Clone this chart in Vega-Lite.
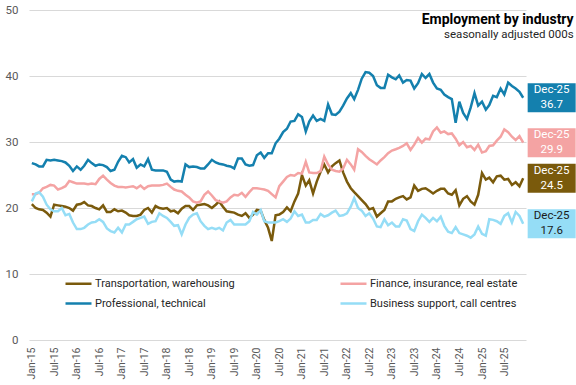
{
  "$schema": "https://vega.github.io/schema/vega-lite/v6.json",
  "width": 497,
  "height": 330,
  "autosize": {"type": "none"},
  "padding": {"left": 29, "top": 10, "right": 50, "bottom": 45},
  "background": "white",
  "config": {"view": {"stroke": null}, "font": "Roboto"},
  "title": {
    "text": "Employment by industry",
    "subtitle": "seasonally adjusted 000s",
    "anchor": "end",
    "orient": "top",
    "offset": -36,
    "dx": -2,
    "font": "Roboto",
    "fontSize": 14,
    "fontWeight": "bold",
    "color": "#000000",
    "subtitleFont": "Roboto",
    "subtitleFontSize": 11.5,
    "subtitleColor": "#262626",
    "subtitlePadding": 2
  },
  "data": {
    "format": {"parse": {"d": "date"}},
    "values": [
      {"d":"2015/01/01","t":20.6,"f":22.1,"p":26.8,"b":21.0},
      {"d":"2015/02/01","t":20.0,"f":22.1,"p":26.6,"b":22.2},
      {"d":"2015/03/01","t":19.8,"f":22.3,"p":26.3,"b":22.4},
      {"d":"2015/04/01","t":19.7,"f":23.0,"p":26.3,"b":21.7},
      {"d":"2015/05/01","t":19.3,"f":23.2,"p":27.3,"b":20.5},
      {"d":"2015/06/01","t":18.7,"f":23.5,"p":27.2,"b":19.8},
      {"d":"2015/07/01","t":20.5,"f":23.4,"p":27.3,"b":19.5},
      {"d":"2015/08/01","t":20.4,"f":22.8,"p":27.2,"b":19.5},
      {"d":"2015/09/01","t":20.3,"f":23.0,"p":27.1,"b":20.0},
      {"d":"2015/10/01","t":20.2,"f":23.3,"p":26.9,"b":18.9},
      {"d":"2015/11/01","t":20.0,"f":24.1,"p":26.4,"b":19.1},
      {"d":"2015/12/01","t":19.6,"f":23.9,"p":25.6,"b":17.8},
      {"d":"2016/01/01","t":20.5,"f":23.7,"p":26.3,"b":16.8},
      {"d":"2016/02/01","t":20.6,"f":23.7,"p":25.8,"b":16.8},
      {"d":"2016/03/01","t":20.9,"f":23.7,"p":26.4,"b":17.0},
      {"d":"2016/04/01","t":20.4,"f":23.6,"p":27.3,"b":17.5},
      {"d":"2016/05/01","t":20.3,"f":23.7,"p":26.8,"b":17.8},
      {"d":"2016/06/01","t":20.0,"f":23.6,"p":26.4,"b":17.9},
      {"d":"2016/07/01","t":19.8,"f":24.4,"p":26.6,"b":18.3},
      {"d":"2016/08/01","t":20.4,"f":24.9,"p":26.5,"b":17.9},
      {"d":"2016/09/01","t":19.4,"f":24.3,"p":26.2,"b":16.9},
      {"d":"2016/10/01","t":19.4,"f":23.8,"p":25.6,"b":16.5},
      {"d":"2016/11/01","t":19.8,"f":23.4,"p":25.8,"b":16.3},
      {"d":"2016/12/01","t":19.5,"f":23.2,"p":27.0,"b":17.0},
      {"d":"2017/01/01","t":19.6,"f":23.2,"p":27.9,"b":16.3},
      {"d":"2017/02/01","t":19.3,"f":23.1,"p":27.7,"b":17.5},
      {"d":"2017/03/01","t":18.9,"f":23.2,"p":26.9,"b":17.5},
      {"d":"2017/04/01","t":18.8,"f":23.3,"p":27.4,"b":17.9},
      {"d":"2017/05/01","t":18.8,"f":23.0,"p":26.1,"b":18.3},
      {"d":"2017/06/01","t":19.0,"f":23.4,"p":26.6,"b":18.5},
      {"d":"2017/07/01","t":19.7,"f":22.9,"p":26.3,"b":18.7},
      {"d":"2017/08/01","t":20.0,"f":23.3,"p":27.4,"b":17.6},
      {"d":"2017/09/01","t":19.3,"f":23.4,"p":25.8,"b":17.9},
      {"d":"2017/10/01","t":20.3,"f":23.4,"p":25.7,"b":18.0},
      {"d":"2017/11/01","t":20.0,"f":23.4,"p":25.7,"b":19.2},
      {"d":"2017/12/01","t":19.9,"f":23.5,"p":25.7,"b":18.8},
      {"d":"2018/01/01","t":20.0,"f":23.7,"p":25.5,"b":18.5},
      {"d":"2018/02/01","t":19.5,"f":23.2,"p":24.3,"b":17.9},
      {"d":"2018/03/01","t":19.6,"f":22.8,"p":24.0,"b":17.3},
      {"d":"2018/04/01","t":19.2,"f":22.6,"p":24.1,"b":17.4},
      {"d":"2018/05/01","t":19.9,"f":22.5,"p":24.0,"b":16.0},
      {"d":"2018/06/01","t":20.3,"f":22.0,"p":26.6,"b":17.5},
      {"d":"2018/07/01","t":20.3,"f":21.6,"p":26.2,"b":18.5},
      {"d":"2018/08/01","t":19.7,"f":21.0,"p":26.3,"b":19.0},
      {"d":"2018/09/01","t":20.4,"f":20.8,"p":26.2,"b":19.2},
      {"d":"2018/10/01","t":20.5,"f":21.0,"p":26.0,"b":18.0},
      {"d":"2018/11/01","t":20.6,"f":22.0,"p":26.0,"b":17.3},
      {"d":"2018/12/01","t":20.4,"f":22.5,"p":26.6,"b":16.8},
      {"d":"2019/01/01","t":20.0,"f":21.9,"p":27.3,"b":17.0},
      {"d":"2019/02/01","t":20.5,"f":21.2,"p":26.9,"b":16.8},
      {"d":"2019/03/01","t":21.0,"f":21.0,"p":26.7,"b":17.0},
      {"d":"2019/04/01","t":20.2,"f":20.8,"p":26.6,"b":16.6},
      {"d":"2019/05/01","t":19.5,"f":21.0,"p":26.4,"b":17.8},
      {"d":"2019/06/01","t":19.4,"f":21.6,"p":26.3,"b":18.2},
      {"d":"2019/07/01","t":19.3,"f":22.0,"p":26.0,"b":17.5},
      {"d":"2019/08/01","t":19.0,"f":21.9,"p":27.5,"b":17.5},
      {"d":"2019/09/01","t":18.8,"f":22.3,"p":27.5,"b":17.5},
      {"d":"2019/10/01","t":19.2,"f":21.7,"p":26.6,"b":17.5},
      {"d":"2019/11/01","t":18.5,"f":22.4,"p":26.4,"b":18.0},
      {"d":"2019/12/01","t":19.0,"f":23.0,"p":26.5,"b":19.4},
      {"d":"2020/01/01","t":19.7,"f":23.0,"p":28.0,"b":19.0},
      {"d":"2020/02/01","t":19.6,"f":22.9,"p":28.4,"b":19.7},
      {"d":"2020/03/01","t":18.2,"f":22.8,"p":27.6,"b":18.0},
      {"d":"2020/04/01","t":17.0,"f":22.6,"p":28.3,"b":17.8},
      {"d":"2020/05/01","t":15.0,"f":22.1,"p":28.3,"b":17.8},
      {"d":"2020/06/01","t":18.9,"f":21.6,"p":29.8,"b":17.8},
      {"d":"2020/07/01","t":19.0,"f":23.3,"p":30.5,"b":18.0},
      {"d":"2020/08/01","t":19.4,"f":24.0,"p":31.5,"b":18.3},
      {"d":"2020/09/01","t":20.1,"f":24.7,"p":32.0,"b":17.9},
      {"d":"2020/10/01","t":19.5,"f":25.0,"p":33.1,"b":18.4},
      {"d":"2020/11/01","t":21.0,"f":24.9,"p":33.2,"b":19.5},
      {"d":"2020/12/01","t":22.2,"f":25.3,"p":34.2,"b":18.8},
      {"d":"2021/01/01","t":25.0,"f":25.2,"p":33.8,"b":19.0},
      {"d":"2021/02/01","t":23.4,"f":27.0,"p":31.6,"b":17.8},
      {"d":"2021/03/01","t":24.2,"f":25.4,"p":33.1,"b":17.8},
      {"d":"2021/04/01","t":22.2,"f":25.3,"p":34.0,"b":18.2},
      {"d":"2021/05/01","t":24.0,"f":25.3,"p":33.2,"b":18.2},
      {"d":"2021/06/01","t":25.5,"f":25.6,"p":33.5,"b":19.1},
      {"d":"2021/07/01","t":26.6,"f":27.8,"p":33.2,"b":18.7},
      {"d":"2021/08/01","t":25.4,"f":26.6,"p":35.7,"b":18.9},
      {"d":"2021/09/01","t":26.3,"f":25.8,"p":34.2,"b":19.3},
      {"d":"2021/10/01","t":26.8,"f":25.6,"p":34.1,"b":19.6},
      {"d":"2021/11/01","t":27.2,"f":25.5,"p":34.6,"b":18.8},
      {"d":"2021/12/01","t":25.4,"f":26.0,"p":35.5,"b":18.9},
      {"d":"2022/01/01","t":24.0,"f":27.3,"p":36.6,"b":19.2},
      {"d":"2022/02/01","t":23.0,"f":26.6,"p":37.4,"b":20.2},
      {"d":"2022/03/01","t":22.4,"f":25.8,"p":36.5,"b":21.5},
      {"d":"2022/04/01","t":21.8,"f":28.9,"p":37.9,"b":20.0},
      {"d":"2022/05/01","t":21.2,"f":28.5,"p":39.6,"b":19.6},
      {"d":"2022/06/01","t":20.6,"f":27.9,"p":40.6,"b":18.8},
      {"d":"2022/07/01","t":19.8,"f":27.4,"p":40.5,"b":19.2},
      {"d":"2022/08/01","t":20.0,"f":27.0,"p":40.0,"b":18.4},
      {"d":"2022/09/01","t":18.7,"f":26.6,"p":38.6,"b":17.2},
      {"d":"2022/10/01","t":19.2,"f":27.2,"p":38.2,"b":17.1},
      {"d":"2022/11/01","t":19.7,"f":27.7,"p":38.2,"b":18.3},
      {"d":"2022/12/01","t":21.0,"f":28.3,"p":40.2,"b":17.4},
      {"d":"2023/01/01","t":21.0,"f":28.7,"p":39.8,"b":17.8},
      {"d":"2023/02/01","t":21.4,"f":28.9,"p":39.5,"b":17.2},
      {"d":"2023/03/01","t":21.6,"f":29.1,"p":40.1,"b":17.2},
      {"d":"2023/04/01","t":21.8,"f":29.4,"p":39.0,"b":18.3},
      {"d":"2023/05/01","t":21.3,"f":29.8,"p":39.4,"b":18.1},
      {"d":"2023/06/01","t":21.6,"f":28.8,"p":39.3,"b":16.8},
      {"d":"2023/07/01","t":23.4,"f":29.6,"p":38.1,"b":16.5},
      {"d":"2023/08/01","t":22.6,"f":30.6,"p":38.9,"b":18.0},
      {"d":"2023/09/01","t":22.9,"f":29.9,"p":40.3,"b":19.0},
      {"d":"2023/10/01","t":23.0,"f":30.5,"p":39.7,"b":18.5},
      {"d":"2023/11/01","t":22.6,"f":30.4,"p":40.3,"b":17.9},
      {"d":"2023/12/01","t":22.2,"f":31.6,"p":39.0,"b":18.5},
      {"d":"2024/01/01","t":22.6,"f":32.2,"p":38.1,"b":18.0},
      {"d":"2024/02/01","t":22.9,"f":31.4,"p":37.9,"b":18.7},
      {"d":"2024/03/01","t":22.9,"f":31.6,"p":37.2,"b":17.3},
      {"d":"2024/04/01","t":22.2,"f":31.2,"p":36.8,"b":16.4},
      {"d":"2024/05/01","t":22.0,"f":31.3,"p":36.5,"b":16.2},
      {"d":"2024/06/01","t":22.7,"f":30.5,"p":32.9,"b":17.1},
      {"d":"2024/07/01","t":20.4,"f":29.5,"p":36.1,"b":16.2},
      {"d":"2024/08/01","t":21.4,"f":30.0,"p":34.4,"b":16.0},
      {"d":"2024/09/01","t":21.8,"f":29.2,"p":33.5,"b":15.8},
      {"d":"2024/10/01","t":21.0,"f":29.4,"p":35.2,"b":15.5},
      {"d":"2024/11/01","t":20.5,"f":28.8,"p":37.4,"b":16.0},
      {"d":"2024/12/01","t":22.0,"f":29.6,"p":35.5,"b":17.2},
      {"d":"2025/01/01","t":25.3,"f":28.4,"p":36.1,"b":16.1},
      {"d":"2025/02/01","t":24.3,"f":28.6,"p":34.9,"b":15.8},
      {"d":"2025/03/01","t":24.6,"f":29.4,"p":35.6,"b":18.3},
      {"d":"2025/04/01","t":23.9,"f":29.5,"p":37.0,"b":18.2},
      {"d":"2025/05/01","t":24.8,"f":30.2,"p":36.8,"b":18.0},
      {"d":"2025/06/01","t":24.9,"f":30.8,"p":38.1,"b":17.6},
      {"d":"2025/07/01","t":24.3,"f":31.9,"p":37.2,"b":18.8},
      {"d":"2025/08/01","t":24.4,"f":31.5,"p":39.0,"b":19.2},
      {"d":"2025/09/01","t":23.5,"f":30.8,"p":38.5,"b":17.8},
      {"d":"2025/10/01","t":23.9,"f":30.3,"p":38.1,"b":19.4},
      {"d":"2025/11/01","t":23.3,"f":30.9,"p":37.6,"b":18.8},
      {"d":"2025/12/01","t":24.5,"f":29.9,"p":36.7,"b":17.6}
    ]
  },
  "transform": [{"fold": ["t", "f", "p", "b"], "as": ["series", "value"]}],
  "encoding": {
    "x": {
      "field": "d",
      "type": "temporal",
      "scale": {"domain": [{"year": 2014, "month": 12, "date": 9}, {"year": 2025, "month": 12, "date": 24}]},
      "axis": {
        "title": null,
        "tickCount": {"interval": "month", "step": 6},
        "format": "%b-%y",
        "labelAngle": 270,
        "labelPadding": 7,
        "labelFontSize": 10.5,
        "labelFont": "Roboto",
        "labelColor": "#595959",
        "ticks": false,
        "domain": false,
        "grid": false,
        "labelFlush": false,
        "labelOverlap": false,
        "labelBound": false
      }
    },
    "y": {
      "field": "value",
      "type": "quantitative",
      "scale": {"domain": [0, 50], "nice": false},
      "axis": {
        "title": null,
        "values": [0, 10, 20, 30, 40, 50],
        "labelPadding": 11,
        "labelFontSize": 11.5,
        "labelFont": "Roboto",
        "labelColor": "#595959",
        "ticks": false,
        "domain": false,
        "gridColor": "#D9D9D9",
        "gridWidth": 1
      }
    },
    "color": {
      "field": "series",
      "type": "nominal",
      "scale": {
        "domain": ["t", "f", "p", "b"],
        "range": ["#7A5A0C", "#F4A3A3", "#1480AE", "#95DDF6"]
      },
      "legend": {
        "title": null,
        "orient": "none",
        "legendX": 35,
        "legendY": 259,
        "columns": 2,
        "direction": "horizontal",
        "symbolType": "stroke",
        "symbolSize": 676,
        "symbolStrokeWidth": 2.5,
        "labelFont": "Roboto",
        "labelFontSize": 11,
        "labelColor": "#262626",
        "labelOffset": 2,
        "columnPadding": 100,
        "rowPadding": -5,
        "labelLimit": 300,
        "labelExpr": "datum.label == 't' ? 'Transportation, warehousing' : datum.label == 'f' ? 'Finance, insurance, real estate' : datum.label == 'p' ? 'Professional, technical' : 'Business support, call centres'"
      }
    }
  },
  "layer": [
    {"mark": {"type": "line", "strokeWidth": 2.5}},
    {
      "transform": [{"filter": "year(datum.d) == 2025 && month(datum.d) == 11"}],
      "mark": {"type": "rect", "width": 48, "height": 29, "xOffset": 28.5, "clip": false},
      "encoding": {"opacity": {"value": 1}}
    },
    {
      "transform": [{"filter": "year(datum.d) == 2025 && month(datum.d) == 11"}],
      "mark": {"type": "text", "xOffset": 28.5, "dy": -7.5, "fontSize": 11.5, "font": "Roboto", "baseline": "middle", "align": "center"},
      "encoding": {
        "text": {"field": "d", "type": "temporal", "format": "%b-%y"},
        "color": {"condition": {"test": "datum.series == 'b'", "value": "#1a1a1a"}, "value": "#ffffff"}
      }
    },
    {
      "transform": [{"filter": "year(datum.d) == 2025 && month(datum.d) == 11"}],
      "mark": {"type": "text", "xOffset": 28.5, "dy": 7.5, "fontSize": 11.5, "font": "Roboto", "baseline": "middle", "align": "center"},
      "encoding": {
        "text": {"field": "value", "type": "quantitative", "format": ".1f"},
        "color": {"condition": {"test": "datum.series == 'b'", "value": "#1a1a1a"}, "value": "#ffffff"}
      }
    }
  ]
}
